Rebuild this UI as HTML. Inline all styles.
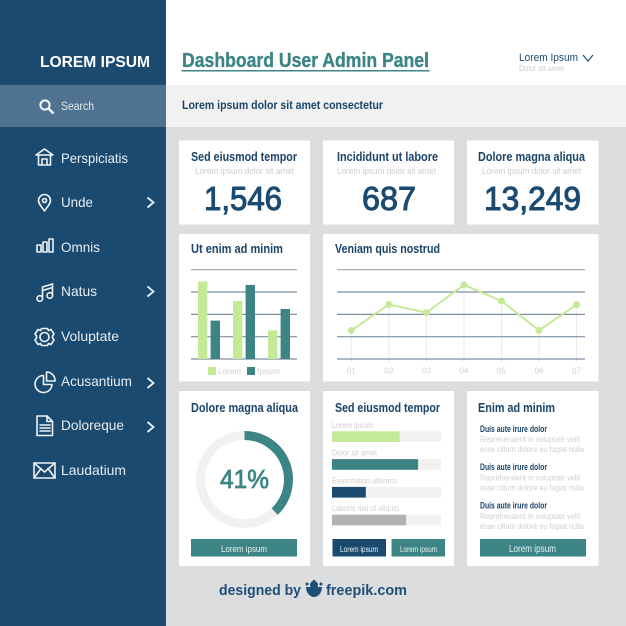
<!DOCTYPE html>
<html lang="en">
<head>
<meta charset="utf-8">
<title>Dashboard User Admin Panel</title>
<style>
html,body{margin:0;padding:0;width:626px;height:626px;overflow:hidden;background:#fff}
svg{display:block}
text{font-family:"Liberation Sans",sans-serif}
.b{font-weight:700}
.menu{fill:#e6edf2;font-size:14px}
.ttl{fill:#1b4468;font-size:12.5px;font-weight:700}
.sub{fill:#cbcdcf;font-size:9px}
.num{fill:#1b4a70;font-size:33px;stroke:#1b4a70;stroke-width:1px;text-anchor:start}
.lbl{fill:#cfcfcf;font-size:8.5px}
.btn{fill:#e8f2f2;font-size:9.5px}
.ico{fill:none;stroke:#eef3f6;stroke-width:1.6;stroke-linejoin:round;stroke-linecap:round}
.par{fill:#cfd0d2;font-size:8.5px}
.head{fill:#1b4468;font-size:9px;font-weight:700}
</style>
</head>
<body>
<svg id="page" width="626" height="626" viewBox="0 0 626 626" xmlns="http://www.w3.org/2000/svg">
  <rect x="166" y="127" width="460" height="499" fill="#dcdddf"/>
  <rect x="166" y="0" width="460" height="85" fill="#ffffff"/>
  <rect x="166" y="85" width="460" height="42" fill="#f1f1f2"/>
  <rect x="0" y="0" width="166" height="626" fill="#1b4a70"/>
  <rect x="0" y="85" width="166" height="42" fill="#4f7290"/>

  <text class="b" x="40" y="67" font-size="16" fill="#ffffff" textLength="110" lengthAdjust="spacingAndGlyphs">LOREM IPSUM</text>

  <g fill="none" stroke="#f2f6f8" stroke-width="2"><circle cx="45" cy="105" r="4.6"/><path d="M48.5 108.5L53.5 113.5" stroke-width="2.4"/></g>
  <text x="61" y="110" font-size="12" fill="#e6edf2" textLength="33" lengthAdjust="spacingAndGlyphs">Search</text>

  <g class="ico"><path d="M36 155L44.500 149L53 155M36 155H53M38.500 155V165H50.500V155M42 165V159H47V165"/></g>
  <text class="menu" x="61" y="163" textLength="67" lengthAdjust="spacingAndGlyphs">Perspiciatis</text>

  <g class="ico"><path d="M44.500 211C41 206 38.500 203.500 38.500 200.500A6 6 0 0 1 50.500 200.500C50.500 203.500 48 206 44.500 211Z"/><circle cx="44.500" cy="200.500" r="2"/></g>
  <text class="menu" x="61" y="207" textLength="32" lengthAdjust="spacingAndGlyphs">Unde</text>
  <path d="M147.500 197.500L153.500 202.500L147.500 207.500" fill="none" stroke="#eef3f6" stroke-width="1.800"/>

  <g class="ico"><rect x="37" y="245" width="4" height="7"/><rect x="43" y="242" width="4" height="10"/><rect x="49" y="239" width="4" height="13"/></g>
  <text class="menu" x="61" y="252" textLength="39" lengthAdjust="spacingAndGlyphs">Omnis</text>

  <g class="ico"><path d="M42.500 298V287L52.500 284V295M42.500 290.500L52.500 287.500"/><circle cx="39.800" cy="298.500" r="2.800"/><circle cx="49.800" cy="295.500" r="2.800"/></g>
  <text class="menu" x="61" y="296" textLength="36" lengthAdjust="spacingAndGlyphs">Natus</text>
  <path d="M147.500 286.500L153.500 291.500L147.500 296.500" fill="none" stroke="#eef3f6" stroke-width="1.800"/>

  <g class="ico"><circle cx="44.500" cy="337" r="4.500"/><path d="M41.500 328.500H47.500L48.500 330.500L51 329.500L54 334L52.500 336V338L54 340L51 344.500L48.500 343.500L47.500 345.500H41.500L40.500 343.500L38 344.500L35 340L36.500 338V336L35 334L38 329.500L40.500 330.500Z"/></g>
  <text class="menu" x="61" y="341" textLength="58" lengthAdjust="spacingAndGlyphs">Voluptate</text>

  <g class="ico"><path d="M43.500 375.500A8.500 8.500 0 1 0 52 384.500H43.500Z"/><path d="M46.500 372V381H55A8.500 8.500 0 0 0 46.500 372Z"/></g>
  <text class="menu" x="61" y="386" textLength="71" lengthAdjust="spacingAndGlyphs">Acusantium</text>
  <path d="M147.500 378L153.500 383L147.500 388" fill="none" stroke="#eef3f6" stroke-width="1.800"/>

  <g class="ico"><path d="M37 416H47L52.500 421.500V435.500H37Z"/><path d="M47 416V421.500H52.500M40 425H50M40 428H50M40 431H50"/></g>
  <text class="menu" x="61" y="430" textLength="63" lengthAdjust="spacingAndGlyphs">Doloreque</text>
  <path d="M147.500 422L153.500 427L147.500 432" fill="none" stroke="#eef3f6" stroke-width="1.800"/>

  <g class="ico"><rect x="34" y="463" width="21" height="15"/><path d="M34 463L44.500 472L55 463M34 478L41 468.500M55 478L48 468.500"/></g>
  <text class="menu" x="61" y="475" textLength="65" lengthAdjust="spacingAndGlyphs">Laudatium</text>

  <text class="b" x="182" y="67" font-size="20.500" fill="#3d8585" stroke="#3d8585" stroke-width=".35" textLength="247" lengthAdjust="spacingAndGlyphs">Dashboard User Admin Panel</text>
  <rect x="181.500" y="70" width="248" height="1.500" fill="#3d8585"/>
  <text x="519" y="61" font-size="11" fill="#1b4a70" textLength="59" lengthAdjust="spacingAndGlyphs">Lorem Ipsum</text>
  <text x="519" y="71" font-size="8.500" fill="#cbcdcf" textLength="45" lengthAdjust="spacingAndGlyphs">Dolor sit amet</text>
  <path d="M583 55L588 61L593 55" fill="none" stroke="#1b4a70" stroke-width="1.200"/>
  <text class="b" x="182" y="109" font-size="12" fill="#1b4468" textLength="201" lengthAdjust="spacingAndGlyphs">Lorem ipsum dolor sit amet consectetur</text>

  <rect x="179" y="140.500" width="131" height="84" fill="#fff"/>
  <rect x="323" y="140.500" width="131" height="84" fill="#fff"/>
  <rect x="467" y="140.500" width="131.500" height="84" fill="#fff"/>
  <rect x="179" y="234" width="131" height="147.500" fill="#fff"/>
  <rect x="323" y="234" width="275.500" height="147.500" fill="#fff"/>
  <rect x="179" y="391" width="131" height="175" fill="#fff"/>
  <rect x="323" y="391" width="131" height="175" fill="#fff"/>
  <rect x="467" y="391" width="131.500" height="175" fill="#fff"/>

  <text class="ttl" x="191" y="161" textLength="106" lengthAdjust="spacingAndGlyphs">Sed eiusmod tempor</text>
  <text class="sub" x="195" y="174" textLength="99" lengthAdjust="spacingAndGlyphs">Lorem ipsum dolor sit amet</text>
  <text class="num" x="204" y="210" textLength="78" lengthAdjust="spacingAndGlyphs">1,546</text>
  <text class="ttl" x="337" y="161" textLength="101" lengthAdjust="spacingAndGlyphs">Incididunt ut labore</text>
  <text class="sub" x="337" y="174" textLength="99" lengthAdjust="spacingAndGlyphs">Lorem ipsum dolor sit amet</text>
  <text class="num" x="362" y="210" textLength="54" lengthAdjust="spacingAndGlyphs">687</text>
  <text class="ttl" x="478" y="161" textLength="107" lengthAdjust="spacingAndGlyphs">Dolore magna aliqua</text>
  <text class="sub" x="482" y="174" textLength="99" lengthAdjust="spacingAndGlyphs">Lorem ipsum dolor sit amet</text>
  <text class="num" x="484" y="210" textLength="97" lengthAdjust="spacingAndGlyphs">13,249</text>

  <text class="ttl" x="191" y="253" textLength="92" lengthAdjust="spacingAndGlyphs">Ut enim ad minim</text>
  <g id="bar-chart"></g>
  <rect x="208" y="367" width="8" height="8" fill="#c5ea97"/>
  <text class="lbl" x="218" y="374" textLength="23" lengthAdjust="spacingAndGlyphs">Lorem</text>
  <rect x="247" y="367" width="8" height="8" fill="#3d8585"/>
  <text class="lbl" x="257" y="374" textLength="23" lengthAdjust="spacingAndGlyphs">Ipsum</text>

  <text class="ttl" x="335" y="253" textLength="105" lengthAdjust="spacingAndGlyphs">Veniam quis nostrud</text>
  <g id="line-chart"></g>

  <text class="ttl" x="191" y="412" textLength="107" lengthAdjust="spacingAndGlyphs">Dolore magna aliqua</text>
  <g id="donut-chart"></g>
  <rect x="191" y="539" width="106" height="17.500" fill="#3d8585"/>
  <text class="btn" x="221" y="552" textLength="46" lengthAdjust="spacingAndGlyphs">Lorem ipsum</text>

  <text class="ttl" x="335" y="412" textLength="105" lengthAdjust="spacingAndGlyphs">Sed eiusmod tempor</text>
  <g id="progress-chart"></g>
  <rect x="332.500" y="539" width="53.500" height="17.500" fill="#1b4a70"/>
  <text class="btn" x="340" y="552" style="font-size:8.500px" textLength="38" lengthAdjust="spacingAndGlyphs">Lorem ipsum</text>
  <rect x="391.500" y="539" width="53.500" height="17.500" fill="#3d8585"/>
  <text class="btn" x="400" y="552" style="font-size:8.500px" textLength="37" lengthAdjust="spacingAndGlyphs">Lorem ipsum</text>

  <text class="ttl" x="478" y="412" textLength="77" lengthAdjust="spacingAndGlyphs">Enim ad minim</text>
  <text class="head" x="480" y="432" textLength="67" lengthAdjust="spacingAndGlyphs">Duis aute irure dolor</text>
  <text class="par" x="480" y="442" textLength="100" lengthAdjust="spacingAndGlyphs">Reprehenderit in voluptate velit</text>
  <text class="par" x="480" y="452" textLength="104" lengthAdjust="spacingAndGlyphs">esse cillum dolore eu fugiat nulla</text>
  <text class="head" x="480" y="470" textLength="67" lengthAdjust="spacingAndGlyphs">Duis aute irure dolor</text>
  <text class="par" x="480" y="480.500" textLength="100" lengthAdjust="spacingAndGlyphs">Reprehenderit in voluptate velit</text>
  <text class="par" x="480" y="490.500" textLength="104" lengthAdjust="spacingAndGlyphs">esse cillum dolore eu fugiat nulla</text>
  <text class="head" x="480" y="508.500" textLength="67" lengthAdjust="spacingAndGlyphs">Duis aute irure dolor</text>
  <text class="par" x="480" y="519" textLength="100" lengthAdjust="spacingAndGlyphs">Reprehenderit in voluptate velit</text>
  <text class="par" x="480" y="529" textLength="104" lengthAdjust="spacingAndGlyphs">esse cillum dolore eu fugiat nulla</text>
  <rect x="480" y="539" width="106" height="17.500" fill="#3d8585"/>
  <text class="btn" x="509" y="552" style="font-size:10.500px" textLength="47" lengthAdjust="spacingAndGlyphs">Lorem ipsum</text>

  <text class="b" x="219" y="595" font-size="15" fill="#1f4e79" textLength="82" lengthAdjust="spacingAndGlyphs">designed by</text>
  <g fill="#1f4e79"><path d="M306 587H322C322 593 318 597 314 597C310 597 306 593 306 587Z"/><circle cx="314" cy="585" r="4"/><circle cx="314" cy="581" r="1.300"/><circle cx="321" cy="584" r="1.500"/><circle cx="307" cy="584" r="1.500"/></g>
  <text class="b" x="326" y="595" font-size="15" fill="#1f4e79" textLength="81" lengthAdjust="spacingAndGlyphs">freepik.com</text>
</svg>
<script>
var barCategories = ['group-1', 'group-2', 'group-3'];
var barLorem = [87, 65, 32];
var barIpsum = [43, 83, 56];
var gridTicks = [0, 25, 50, 75, 100];

var lineLabels = ['01', '02', '03', '04', '05', '06', '07'];
var lineValues = [32, 61, 52, 83, 65, 32, 61];

var donutArcPercent = [38];
var donutLabel = ['41%'];

var progressLabels = ['Lorem ipsum', 'Dolor sit amet', 'Exercitation ullamco', 'Laboris nisi ut aliquip'];
var progressValues = [62, 79, 31, 68];
var progressColors = ['#c5ea97', '#3d8585', '#1b4a70', '#b2b2b2'];
var progressLabelWidths = [41, 45, 65, 67];

var NS = 'http://www.w3.org/2000/svg';
function make(parent, tag, attrs) {
  var el = document.createElementNS(NS, tag);
  for (var k in attrs) { el.setAttribute(k, attrs[k]); }
  parent.appendChild(el);
  return el;
}
function yScale(v) { return 359 - v * 0.893; }

function drawGrid(group, x1, x2) {
  gridTicks.forEach(function (t) {
    var line = make(group, 'line', { x1: x1, x2: x2, y1: yScale(t), y2: yScale(t), stroke: t === 100 ? '#9aa8b5' : '#7b8fa2', 'stroke-width': 1.200 });
    
    
  });
}

(function drawBars() {
  var g = document.getElementById('bar-chart');
  drawGrid(g, 191, 297);
  function groupX(i) { return 198 + i * 35; }
  var barW = 9.400;
  barCategories.forEach(function (c, i) {
    var a = make(g, 'rect', { x: groupX(i), y: yScale(barLorem[i]), width: barW, height: 359 - yScale(barLorem[i]), fill: '#c5ea97' });
    
    
    var b = make(g, 'rect', { x: groupX(i) + 12.600, y: yScale(barIpsum[i]), width: barW, height: 359 - yScale(barIpsum[i]), fill: '#3d8585' });
    
    
  });
})();

(function drawLine() {
  var g = document.getElementById('line-chart');
  function xScale(i) { return 351.300 + i * 37.550; }
  lineValues.forEach(function (v, i) {
    var drop = make(g, 'line', { x1: xScale(i), x2: xScale(i), y1: yScale(v), y2: 362, stroke: '#e8eaec', 'stroke-width': 1 });
    
    
    var tick = make(g, 'text', { x: xScale(i), y: 373.500, 'text-anchor': 'middle', fill: '#cfcfcf', 'font-size': 8 });
    tick.textContent = lineLabels[i];
    
    
  });
  drawGrid(g, 337, 585);
  var pts = lineValues.map(function (v, i) { return xScale(i) + ',' + yScale(v); }).join(' ');
  var path = make(g, 'polyline', { points: pts, fill: 'none', stroke: '#c5ea97', 'stroke-width': 2 });
  
  
  lineValues.forEach(function (v, i) {
    var dot = make(g, 'circle', { cx: xScale(i), cy: yScale(v), r: 3.500, fill: '#c5ea97' });
    
    
  });
})();

(function drawDonut() {
  var g = document.getElementById('donut-chart');
  var cx = 244.500, cy = 479.500, r = 44;
  var track = make(g, 'circle', { cx: cx, cy: cy, r: r, fill: 'none', stroke: '#f1f1f2', 'stroke-width': 9 });
  
  
  var a = donutArcPercent[0] / 100 * 2 * Math.PI;
  var ex = cx + r * Math.sin(a), ey = cy - r * Math.cos(a);
  var d = 'M' + cx + ' ' + (cy - r) + 'A' + r + ' ' + r + ' 0 ' + (a > Math.PI ? 1 : 0) + ' 1 ' + ex + ' ' + ey;
  var arc = make(g, 'path', { d: d, fill: 'none', stroke: '#3d8585', 'stroke-width': 9 });
  
  
  var t = make(g, 'text', { x: 220, y: 488, fill: '#3d8585', 'font-size': 26, stroke: '#3d8585', 'stroke-width': 0.800, textLength: 49, lengthAdjust: 'spacingAndGlyphs' });
  t.textContent = donutLabel[0];
  
  
})();

(function drawProgress() {
  var g = document.getElementById('progress-chart');
  function rowY(i) { return 431.300 + i * 27.800; }
  function wScale(v) { return v / 100 * 109; }
  progressValues.forEach(function (v, i) {
    var label = make(g, 'text', { x: 332, y: rowY(i) - 3.500, fill: '#cfcfcf', 'font-size': 8.500, textLength: progressLabelWidths[i], lengthAdjust: 'spacingAndGlyphs' });
    label.textContent = progressLabels[i];
    
    
    var track = make(g, 'rect', { x: 332, y: rowY(i), width: 109, height: 10.700, fill: '#f1f1f2' });
    
    
    var fill = make(g, 'rect', { x: 332, y: rowY(i), width: wScale(v), height: 10.700, fill: progressColors[i] });
    
    
  });
})();
</script>
</body>
</html>
